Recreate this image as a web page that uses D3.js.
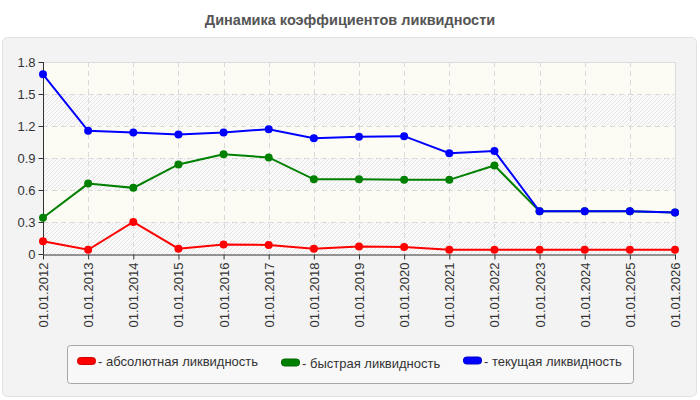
<!DOCTYPE html>
<html>
<head>
<meta charset="utf-8">
<script src="https://cdn.jsdelivr.net/npm/d3@7"></script>
<style>
  body { margin: 0; background: #fff; }
  text { font-family: "Liberation Sans", Arial, sans-serif; }
</style>
</head>
<body>
<div id="chart"></div>
<script>
// data
var dates = ["01.01.2012", "01.01.2013", "01.01.2014", "01.01.2015", "01.01.2016",
             "01.01.2017", "01.01.2018", "01.01.2019", "01.01.2020", "01.01.2021",
             "01.01.2022", "01.01.2023", "01.01.2024", "01.01.2025", "01.01.2026"];
var absLiq = [0.12, 0.04, 0.30, 0.05, 0.09, 0.085, 0.05, 0.07, 0.065, 0.04, 0.04, 0.04, 0.04, 0.04, 0.04];
var quickLiq = [0.34, 0.66, 0.62, 0.84, 0.935, 0.905, 0.70, 0.70, 0.695, 0.695, 0.83, 0.40, 0.40, 0.40, 0.39];
var curLiq = [1.685, 1.155, 1.14, 1.12, 1.14, 1.17, 1.085, 1.10, 1.105, 0.945, 0.965, 0.40, 0.40, 0.40, 0.39];
var yTicks = [0, 0.3, 0.6, 0.9, 1.2, 1.5, 1.8];
var seriesNames = ["- абсолютная ликвидность", "- быстрая ликвидность", "- текущая ликвидность"];
var seriesColors = ["#ff0000", "#008000", "#0000ff"];
var title = "Динамика коэффициентов ликвидности";

var W = 700, H = 400;
var svg = d3.select("#chart").append("svg")
  .attr("width", W).attr("height", H);

var defs = svg.append("defs");
var pat = defs.append("pattern")
  .attr("id", "hatch")
  .attr("patternUnits", "userSpaceOnUse")
  .attr("width", 4).attr("height", 4);
pat.append("rect").attr("width", 4).attr("height", 4).attr("fill", "#fafafa");
pat.append("path")
  .attr("d", "M-1,1 l2,-2 M0,4 l4,-4 M3,5 l2,-2")
  .attr("stroke", "#e4e4e4").attr("stroke-width", 1);

// title
svg.append("text")
  .attr("x", W / 2).attr("y", 25)
  .attr("text-anchor", "middle")
  .attr("font-size", 14.5).attr("font-weight", "bold")
  .attr("fill", "#555")
  .text(title);

// grey panel
svg.append("rect")
  .attr("x", 2.5).attr("y", 37.5)
  .attr("width", 694).attr("height", 359)
  .attr("rx", 5)
  .attr("fill", "#f3f3f3")
  .attr("stroke", "#e2e2e2");

var plotL = 43, plotR = 675, plotT = 62, plotB = 254;

var x = d3.scalePoint().domain(dates).range([plotL, plotR]);
var y = d3.scaleLinear().domain([0, 1.8]).range([plotB, plotT]);

// background bands
var g = svg.append("g");
yTicks.slice(0, -1).forEach(function(t, i) {
  g.append("rect")
    .attr("x", plotL).attr("y", y(yTicks[i + 1]))
    .attr("width", plotR - plotL)
    .attr("height", y(t) - y(yTicks[i + 1]))
    .attr("fill", i % 2 == 0 ? "url(#hatch)" : "#fcfcf5");
});

// grid
g.selectAll(".hgrid").data(yTicks.slice(1, -1)).enter().append("line")
  .attr("x1", plotL).attr("x2", plotR)
  .attr("y1", function(d) { return Math.round(y(d)) + 0.5; })
  .attr("y2", function(d) { return Math.round(y(d)) + 0.5; })
  .attr("stroke", "#d9d9d9").attr("stroke-dasharray", "5,4");
g.selectAll(".vgrid").data(dates.slice(1, -1)).enter().append("line")
  .attr("y1", plotT).attr("y2", plotB)
  .attr("x1", function(d) { return Math.round(x(d)) + 0.5; })
  .attr("x2", function(d) { return Math.round(x(d)) + 0.5; })
  .attr("stroke", "#d9d9d9").attr("stroke-dasharray", "5,4");
g.append("path")
  .attr("d", "M" + plotL + "," + (plotT + 0.5) + "H" + (plotR + 0.5) + "V" + plotB)
  .attr("fill", "none").attr("stroke", "#dcdcdc");

// axes
var yAxis = svg.append("g")
  .attr("transform", "translate(" + (plotL + 0.5) + ",0)")
  .call(d3.axisLeft(y).tickValues(yTicks).tickSize(5).tickPadding(3)
    .tickFormat(function(d) { return d == 0 ? "0" : d3.format(".1f")(d); }));
var xAxis = svg.append("g")
  .attr("transform", "translate(0," + (plotB + 0.5) + ")")
  .call(d3.axisBottom(x).tickSize(5).tickSizeOuter(0));
yAxis.select(".domain").attr("d", "M0," + plotT + "V" + plotB);
[yAxis, xAxis].forEach(function(a) {
  a.selectAll(".domain, line").attr("stroke", "#333");
  a.selectAll("text").attr("fill", "#333").attr("font-size", 13)
    .attr("font-family", "Liberation Sans, Arial, sans-serif");
});
xAxis.selectAll("text")
  .attr("transform", "rotate(-90)")
  .attr("text-anchor", "end")
  .attr("x", -8).attr("y", 0).attr("dy", "0.35em");

// lines and markers
var allSeries = [absLiq, quickLiq, curLiq];
var line = d3.line()
  .x(function(d, i) { return x(dates[i]); })
  .y(function(d) { return y(d); });
allSeries.forEach(function(s, k) {
  svg.append("path")
    .datum(s)
    .attr("d", line)
    .attr("fill", "none")
    .attr("stroke", seriesColors[k])
    .attr("stroke-width", 2);
  svg.selectAll(".dot" + k).data(s).enter().append("circle")
    .attr("cx", function(d, i) { return x(dates[i]); })
    .attr("cy", function(d) { return y(d); })
    .attr("r", 4)
    .attr("fill", seriesColors[k]);
});

// legend
svg.append("rect")
  .attr("x", 67.5).attr("y", 345.5)
  .attr("width", 566).attr("height", 38)
  .attr("rx", 3)
  .attr("fill", "#f8f8f8")
  .attr("stroke", "#a6a6a6");
var legX = [77, 281, 463];
var legY = [357, 358.5, 356.5];
seriesNames.forEach(function(n, k) {
  svg.append("rect")
    .attr("x", legX[k] + 0.5).attr("y", legY[k] + 0.5)
    .attr("width", 18).attr("height", 7)
    .attr("rx", 3)
    .attr("fill", seriesColors[k])
    .attr("stroke", d3.color(seriesColors[k]).darker(0.6));
  svg.append("text")
    .attr("x", legX[k] + 21).attr("y", legY[k] + 9)
    .attr("font-size", 13).attr("fill", "#333")
    .text(n);
});
</script>
</body>
</html>
